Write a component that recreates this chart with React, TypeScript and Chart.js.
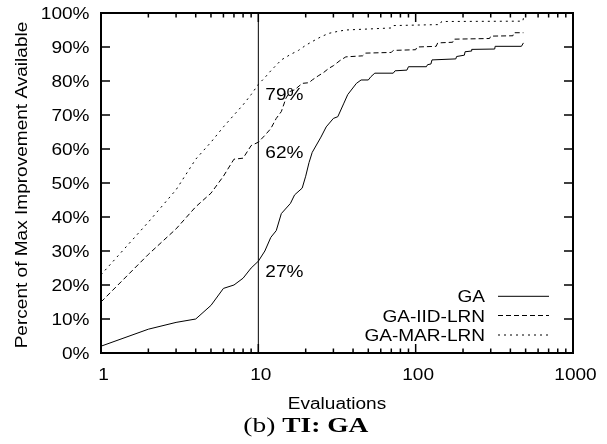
import React, { useEffect, useRef } from "react";
import { Chart, registerables } from "chart.js";

Chart.register(...registerables);

// ---- data ----
const seriesNames = ["GA", "GA-IID-LRN", "GA-MAR-LRN"];

const evalsGA = [1, 2, 3, 4, 5, 6, 7, 8, 9, 10, 11, 12, 13, 14, 16, 17, 19, 20, 21, 22, 25, 27, 30, 32, 35, 37, 42, 45, 50, 52, 55, 72, 74, 88, 90, 117, 119, 125, 127, 180, 182, 204, 206, 225, 227, 318, 320, 470, 484];
const pctGA = [2, 7, 9, 10, 14, 19, 20, 22, 25, 27, 30, 34, 36, 41, 44, 46.5, 48.5, 52, 56, 59, 63.5, 66.5, 69, 69.5, 73.5, 76, 79.3, 80.3, 80.3, 81.3, 82.3, 82.3, 83, 83.2, 84.2, 84.2, 84.8, 85, 86.2, 86.5, 87.2, 87.6, 88.6, 88.8, 89.3, 89.4, 90.2, 90.2, 91.2];

const evalsIID = [1, 2, 3, 4, 5, 6, 7, 8, 9, 10, 11, 12, 13, 14, 15, 16, 17, 19, 21, 22, 24, 26, 28, 30, 33, 36, 46, 48, 70, 72, 100, 102, 135, 138, 172, 175, 295, 300, 415, 420, 484];
const pctIID = [15, 29, 36.5, 43, 47, 52, 57, 57.3, 61, 62, 64, 66, 69, 71, 75, 77, 77.4, 79.3, 79.5, 80.3, 81.5, 82.5, 83.7, 84.5, 86, 87.1, 87.4, 88.2, 88.4, 89, 89.2, 90, 90.2, 91.2, 91.4, 92.3, 92.5, 93.2, 93.3, 94.2, 94.2];

const evalsMAR = [1, 2, 3, 4, 5, 6, 7, 8, 9, 10, 11, 12, 14, 16, 18, 20, 22, 25, 28, 32, 36, 70, 72, 143, 146, 480, 484];
const pctMAR = [23, 38.5, 48, 57, 62, 66.5, 70, 73, 76, 79, 81, 83, 86.2, 87.8, 89, 90.5, 91.6, 93, 94, 94.6, 95, 95.6, 96.3, 96.6, 97.5, 97.6, 98.5];

const markerEval = 10;
const markerValues = [79, 62, 27];
const markerLabels = ["79%", "62%", "27%"];

const xTickValues = [1, 10, 100, 1000];
const xTickLabels = ["1", "10", "100", "1000"];
const yTickValues = [0, 10, 20, 30, 40, 50, 60, 70, 80, 90, 100];
const yTickLabels = ["0%", "10%", "20%", "30%", "40%", "50%", "60%", "70%", "80%", "90%", "100%"];

const xTitle = "Evaluations";
const yTitle = "Percent of Max Improvement Available";
const captionPrefix = "(b) ";
const captionBold = "TI: GA";

// ---- styling ----
const SANS = '16px "Liberation Sans", Arial, Helvetica, sans-serif';
const STRETCH = 1.19;
const dashes: number[][] = [[], [5, 3], [2, 4]];

function sText(ctx: CanvasRenderingContext2D, text: string, x: number, y: number, align: CanvasTextAlign, sx = STRETCH) {
  ctx.save();
  ctx.translate(x, y);
  ctx.scale(sx, 1);
  ctx.textAlign = align;
  ctx.textBaseline = "alphabetic";
  ctx.fillText(text, 0, 0);
  ctx.restore();
}

const gnuplotPlugin = {
  id: "gnuplotDecor",
  afterDatasetsDraw(chart: any) {
    const { ctx, chartArea } = chart;
    const { left, right, top, bottom } = chartArea;
    const xs = chart.scales.x;
    const ys = chart.scales.y;
    ctx.save();
    ctx.strokeStyle = "#000";
    ctx.fillStyle = "#000";
    ctx.setLineDash([]);

    // tick marks (inward, mirrored)
    ctx.lineWidth = 1.5;
    ctx.beginPath();
    yTickValues.forEach((v) => {
      const py = ys.getPixelForValue(v);
      ctx.moveTo(left, py);
      ctx.lineTo(left + 9, py);
      ctx.moveTo(right, py);
      ctx.lineTo(right - 9, py);
    });
    for (let d = 1; d < 1000; d *= 10) {
      for (let m = 1; m <= 10; m++) {
        const v = m * d;
        const px = xs.getPixelForValue(v);
        const len = m === 1 || m === 10 ? 9 : 4.5;
        ctx.moveTo(px, bottom);
        ctx.lineTo(px, bottom - len);
        ctx.moveTo(px, top);
        ctx.lineTo(px, top + len);
      }
    }
    ctx.stroke();

    // border
    ctx.lineWidth = 2;
    ctx.strokeRect(left, top, right - left, bottom - top);

    // tick labels
    ctx.font = SANS;
    yTickValues.forEach((v, i) => {
      sText(ctx, yTickLabels[i], 89.5, ys.getPixelForValue(v) + 6, "right");
    });
    xTickValues.forEach((v, i) => {
      sText(ctx, xTickLabels[i], xs.getPixelForValue(v) + 2.5, bottom + 26.5, "center");
    });

    // axis titles
    sText(ctx, xTitle, (left + right) / 2, bottom + 55.5, "center");
    ctx.save();
    ctx.translate(26.5, (top + bottom) / 2 + 2);
    ctx.rotate(-Math.PI / 2);
    sText(ctx, yTitle, 0, 0, "center");
    ctx.restore();

    // marker labels
    const mx = xs.getPixelForValue(markerEval);
    markerValues.forEach((v, i) => {
      sText(ctx, markerLabels[i], mx + 7, ys.getPixelForValue(v) + 15.5, "left");
    });

    // legend (inside, bottom right)
    const rowsY = [296.3, 315.5, 335];
    seriesNames.forEach((name, i) => {
      sText(ctx, name, 485, rowsY[i] + 6, "right");
      ctx.save();
      ctx.lineWidth = 1;
      ctx.setLineDash(dashes[i]);
      ctx.beginPath();
      ctx.moveTo(498, rowsY[i]);
      ctx.lineTo(549, rowsY[i]);
      ctx.stroke();
      ctx.restore();
    });

    // caption
    const serifR = '20px "Liberation Serif", "Times New Roman", serif';
    const serifB = 'bold 20px "Liberation Serif", "Times New Roman", serif';
    ctx.font = serifR;
    const w1 = ctx.measureText(captionPrefix).width;
    ctx.font = serifB;
    const w2 = ctx.measureText(captionBold).width;
    const sx = 125 / (w1 + w2);
    ctx.save();
    ctx.translate(243.3, 431.7);
    ctx.scale(sx, 1);
    ctx.textAlign = "left";
    ctx.textBaseline = "alphabetic";
    ctx.font = serifR;
    ctx.fillText(captionPrefix, 0, 0);
    ctx.font = serifB;
    ctx.fillText(captionBold, w1, 0);
    ctx.restore();

    ctx.restore();
  },
};

function toPoints(xs: number[], ys: number[]) {
  return xs.map((x, i) => ({ x, y: ys[i] }));
}

export default function App() {
  const canvasRef = useRef<HTMLCanvasElement | null>(null);

  useEffect(() => {
    const canvas = canvasRef.current;
    if (!canvas) return;
    const seriesData = [
      toPoints(evalsGA, pctGA),
      toPoints(evalsIID, pctIID),
      toPoints(evalsMAR, pctMAR),
    ];
    const datasets: any[] = seriesNames.map((name, i) => ({
      label: name,
      data: seriesData[i],
      borderColor: "#000",
      backgroundColor: "#000",
      borderWidth: 1,
      borderDash: dashes[i],
      pointRadius: 0,
      tension: 0,
      fill: false,
    }));
    datasets.push({
      label: "marker",
      data: [
        { x: markerEval, y: yTickValues[0] },
        { x: markerEval, y: yTickValues[yTickValues.length - 1] },
      ],
      borderColor: "#000",
      borderWidth: 1,
      pointRadius: 0,
      fill: false,
    });

    const chart = new Chart(canvas, {
      type: "line",
      data: { datasets },
      options: {
        animation: false,
        responsive: false,
        maintainAspectRatio: false,
        devicePixelRatio: 1,
        layout: { padding: { left: 101, right: 34, top: 13, bottom: 91 } },
        plugins: { legend: { display: false }, tooltip: { enabled: false } },
        scales: {
          x: { type: "logarithmic", min: 1, max: 1000, display: false },
          y: { type: "linear", min: 0, max: 100, display: false },
        },
      },
      plugins: [gnuplotPlugin],
    } as any);

    return () => chart.destroy();
  }, []);

  return (
    <div style={{ position: "fixed", left: 0, top: 0, width: 607, height: 444, background: "#fff" }}>
      <canvas ref={canvasRef} width={607} height={444} style={{ display: "block" }} />
    </div>
  );
}
